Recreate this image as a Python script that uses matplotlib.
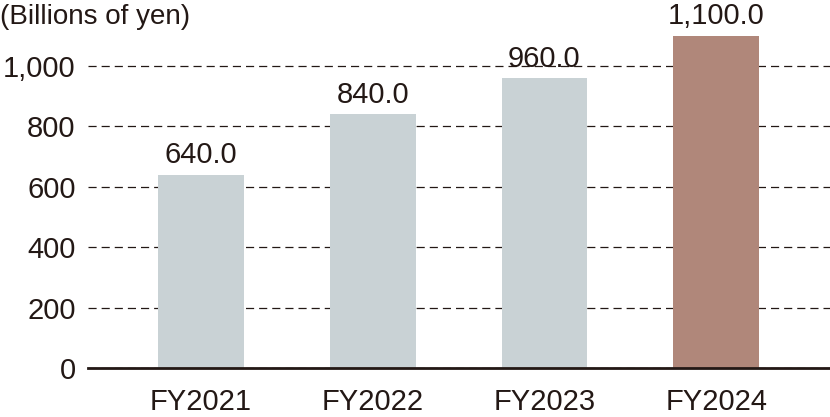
import matplotlib.pyplot as plt

# data
years = ['FY2021', 'FY2022', 'FY2023', 'FY2024']
values = [640.0, 840.0, 960.0, 1100.0]
colors = ['#c9d2d5', '#c9d2d5', '#c9d2d5', '#b0877a']
yticks = [0, 200, 400, 600, 800, 1000]
ytick_labels = ['0', '200', '400', '600', '800', '1,000']

txt = '#231815'
plt.rcParams['font.family'] = ['Liberation Sans', 'DejaVu Sans']

fig = plt.figure(figsize=(8.3, 4.17), dpi=100)
ax = fig.add_axes([88 / 830, 1 - 368 / 417, 1 - 88 / 830, 368 / 417])

x = range(len(years))
ax.bar(x, values, width=0.5, color=colors, zorder=2)

for i, v in zip(x, values):
    ax.text(i, v + 18, f'{v:,.1f}', ha='center', va='bottom',
            fontsize=21, color=txt)

ax.set_xlim(-0.658, 3.663)
ax.set_ylim(0, 1218)
ax.set_yticks(yticks)
ax.set_yticklabels(ytick_labels)
ax.set_xticks(list(x))
ax.set_xticklabels(years)
ax.yaxis.grid(True, linestyle=(0, (6.5, 4)), color=txt, linewidth=0.9, zorder=0)
ax.set_axisbelow(True)

for s in ['top', 'right', 'left']:
    ax.spines[s].set_visible(False)
ax.spines['bottom'].set_color(txt)
ax.spines['bottom'].set_linewidth(2)
ax.spines['bottom'].set_zorder(3)

ax.tick_params(axis='both', length=0, labelsize=21, labelcolor=txt)
ax.tick_params(axis='y', pad=9)
ax.tick_params(axis='x', pad=14.5)

fig.text(0.0, 1 - 4 / 417, '(Billions of yen)', ha='left', va='top',
         fontsize=20, color=txt)

fig.savefig('out.png', dpi=100)
